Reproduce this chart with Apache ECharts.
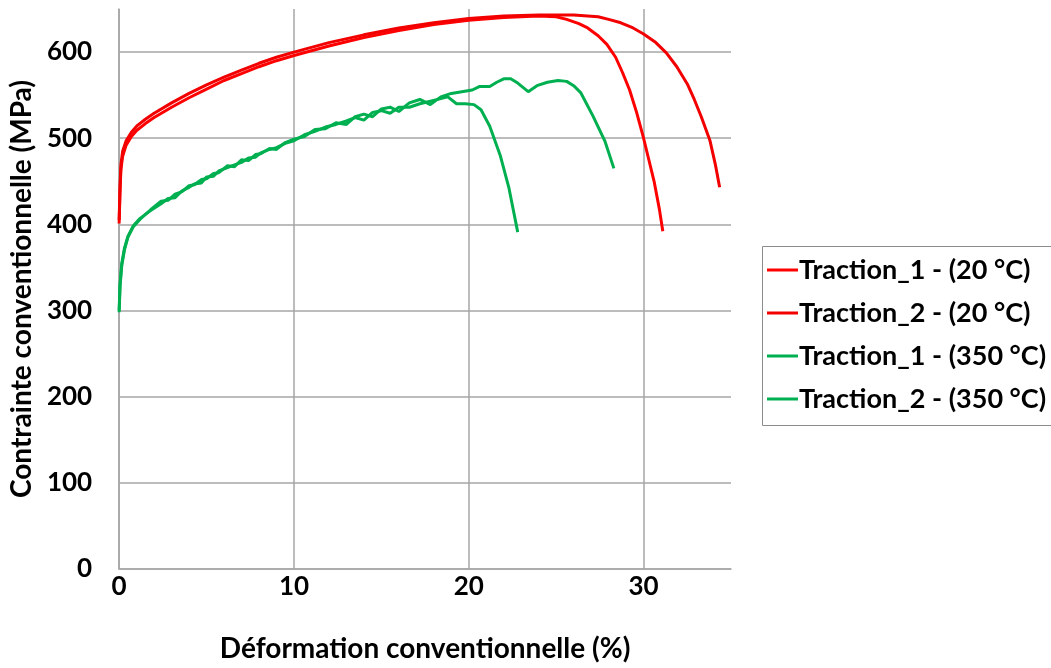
<!DOCTYPE html>
<html>
<head>
<meta charset="utf-8">
<script src="https://cdn.jsdelivr.net/npm/echarts@6/dist/echarts.min.js"></script>
<style>
  html, body { margin: 0; padding: 0; background: #fff; }
  #chart { width: 1051px; height: 668px; }
</style>
</head>
<body>
<div id="chart"></div>
<script>
// noms des essais (légende)
var seriesNames = ['Traction_1 - (20 °C)', 'Traction_2 - (20 °C)', 'Traction_1 - (350 °C)', 'Traction_2 - (350 °C)'];

// [déformation %, contrainte MPa]
var traction1_20 = [
    [0, 401], [0.05, 438], [0.1, 463], [0.2, 479], [0.4, 492], [0.7, 502], [1, 509], [1.5, 517],
    [2, 524], [3, 536], [4, 547], [5, 557], [6, 567], [7, 575], [8, 583], [9, 590], [10, 596],
    [12, 607], [14, 617], [16, 625], [18, 632], [20, 637], [22, 640], [24, 642], [25, 641],
    [25.6, 638], [26.3, 633], [26.8, 628], [27.4, 619], [27.9, 609], [28.4, 594], [28.8, 576],
    [29.2, 556], [29.6, 530], [30, 500], [30.3, 475], [30.6, 450], [30.9, 418], [31.1, 392]
];
var traction2_20 = [
    [0, 405], [0.05, 444], [0.1, 469], [0.2, 485], [0.4, 497], [0.7, 507], [1, 514], [1.5, 522],
    [2, 529], [3, 541], [4, 552], [5, 562], [6, 571], [7, 579], [8, 587], [9, 594], [10, 600],
    [12, 611], [14, 620], [16, 628], [18, 634], [20, 639], [22, 642], [24, 643], [26, 643],
    [27.4, 641], [28, 638], [28.7, 634], [29.4, 628], [30, 621], [30.7, 611], [31.3, 599],
    [31.9, 583], [32.5, 563], [32.9, 545], [33.3, 525], [33.8, 497], [34.1, 470], [34.35, 443]
];
var traction1_350 = [
    [0, 300], [0.05, 330], [0.15, 355], [0.3, 372], [0.5, 386], [0.8, 398], [1.2, 407], [1.8, 416],
    [2.4, 424], [2.8, 430], [3.2, 431], [3.6, 439], [4, 443], [4.3, 447], [4.7, 448], [5, 455],
    [5.4, 456], [5.7, 462], [6.2, 466], [6.6, 469], [7, 472], [7.4, 477], [7.8, 478], [8.1, 483],
    [8.6, 487], [9, 489], [9.5, 494], [10, 497], [10.6, 504], [11.2, 508], [11.8, 513], [12.4, 516],
    [13, 520], [13.5, 524], [14, 521], [14.5, 530], [15, 532], [15.5, 529], [16, 536], [16.6, 536],
    [17.2, 540], [17.8, 543], [18.4, 546], [18.8, 548], [19.3, 540], [19.8, 540], [20.3, 539],
    [20.7, 533], [21.2, 514], [21.8, 480], [22.3, 442], [22.8, 391]
];
var traction2_350 = [
    [0, 298], [0.05, 328], [0.15, 352], [0.3, 370], [0.5, 385], [0.8, 397], [1.2, 406], [1.8, 417],
    [2.4, 427], [2.8, 428], [3.2, 435], [3.6, 438], [4, 445], [4.3, 446], [4.7, 452], [5, 453],
    [5.4, 459], [5.7, 460], [6.2, 468], [6.6, 467], [7, 475], [7.4, 474], [7.8, 481], [8.1, 482],
    [8.6, 488], [9, 487], [9.5, 495], [10, 499], [10.6, 502], [11.2, 510], [11.8, 511], [12.4, 518],
    [13, 516], [13.5, 525], [14, 528], [14.5, 525], [15, 534], [15.5, 536], [16, 531], [16.6, 541],
    [17.2, 545], [17.8, 539], [18.4, 548], [19, 552], [19.6, 554], [20.2, 556], [20.6, 560],
    [21.2, 560], [21.6, 565], [22, 569], [22.4, 569], [22.8, 564], [23.4, 554], [23.9, 561],
    [24.5, 565], [25.1, 567], [25.6, 566], [26, 561], [26.4, 553], [27.1, 526], [27.8, 496], [28.3, 465]
];

var seriesData = [traction1_20, traction2_20, traction1_350, traction2_350];
var seriesColors = ['#ff0000', '#f20000', '#00b050', '#00b050'];

var font = 'Lato';
var gris = '#a6a6a6';

var myChart = echarts.init(document.getElementById('chart'));

var series = [];
for (var i = 0; i < seriesNames.length; i++) {
    series.push({
        name: seriesNames[i],
        type: 'line',
        data: seriesData[i],
        showSymbol: false,
        symbol: 'none',
        smooth: false,
        lineStyle: { color: seriesColors[i], width: 3 },
        itemStyle: { color: seriesColors[i] }
    });
}

var option = {
    animation: false,
    backgroundColor: '#fff',
    textStyle: { fontFamily: font },
    grid: {
        left: 117,
        right: 320,
        top: 9,
        bottom: 93
    },
    // cadre de la légende, coupé par le bord droit comme sur l'original
    graphic: [{
        type: 'rect',
        silent: true,
        shape: { x: 762.5, y: 246.5, width: 400, height: 179 },
        style: { fill: 'none', stroke: '#8c8c8c', lineWidth: 1 }
    }],
    legend: {
        orient: 'vertical',
        left: 762,
        top: 246,
        data: seriesNames,
        icon: 'rect',
        itemWidth: 31,
        itemHeight: 3,
        itemGap: 13,
        selectedMode: false,
        padding: [9, 10, 11, 5],
        textStyle: {
            color: '#000',
            fontFamily: font,
            fontWeight: 'bold',
            fontSize: 27,
            lineHeight: 30,
            padding: [0, 0, 0, -4]
        }
    },
    xAxis: {
        type: 'value',
        min: 0,
        max: 35,
        interval: 10,
        name: 'Déformation conventionnelle (%)',
        nameLocation: 'middle',
        nameGap: 66,
        nameTextStyle: { color: '#000', fontWeight: 'bold', fontSize: 28, fontFamily: font },
        axisLine: { show: true, lineStyle: { color: gris, width: 1.5 } },
        axisTick: { show: false },
        axisLabel: { color: '#000', fontWeight: 'bold', fontSize: 26, margin: 5, showMaxLabel: false },
        splitLine: { show: true, showMaxLine: false, lineStyle: { color: gris, width: 1.5 } }
    },
    yAxis: {
        type: 'value',
        min: 0,
        max: 650,
        interval: 100,
        name: 'Contrainte conventionnelle (MPa)',
        nameLocation: 'middle',
        nameGap: 76,
        nameTextStyle: { color: '#000', fontWeight: 'bold', fontSize: 28, fontFamily: font },
        axisLine: { show: true, lineStyle: { color: gris, width: 1.5 } },
        axisTick: { show: false },
        axisLabel: { color: '#000', fontWeight: 'bold', fontSize: 26, margin: 27, showMaxLabel: false },
        splitLine: { show: true, showMaxLine: false, lineStyle: { color: gris, width: 1.5 } }
    },
    series: series
};

myChart.setOption(option);
</script>
</body>
</html>
